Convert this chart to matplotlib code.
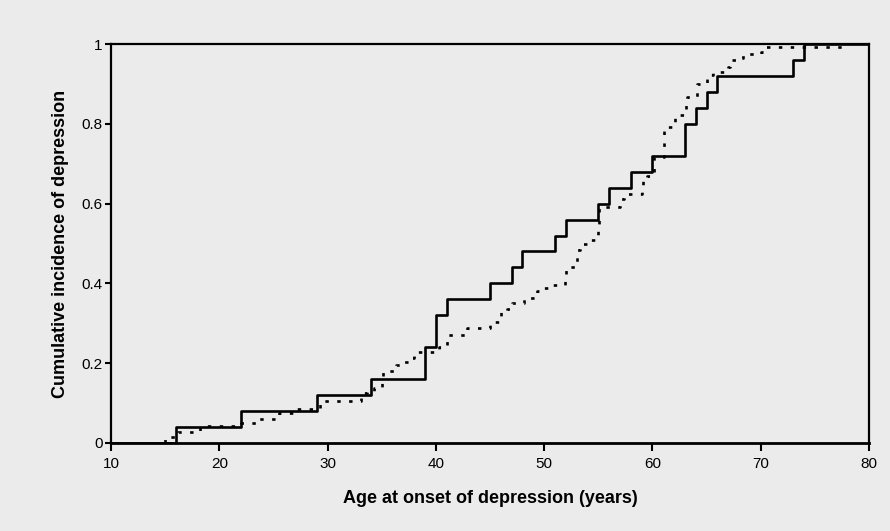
import numpy as np
import matplotlib
matplotlib.use("Agg")
import matplotlib.pyplot as plt

# solid curve: age at each event and cumulative incidence after it
solid_age = [16, 22, 29, 34, 39, 40, 41, 45, 47, 48, 51, 52, 55, 56, 58, 60,
             63, 64, 65, 66, 73, 74]
solid_cum = [0.04, 0.08, 0.12, 0.16, 0.24, 0.32, 0.36, 0.40, 0.44, 0.48, 0.52,
             0.56, 0.60, 0.64, 0.68, 0.72, 0.80, 0.84, 0.88, 0.92, 0.96, 1.0]
solid_end = 80

# dotted curve
dot_age = [15.0, 16.2, 18.2, 22.0, 23.4, 25.2, 25.5, 27.0, 29.3, 33.1, 33.6,
           34.3, 35.0, 35.1, 36.3, 37.0, 37.6, 38.0, 40.3, 41.0, 42.9, 45.0,
           46.0, 46.6, 47.0, 48.1, 49.3, 49.9, 50.5, 51.9, 52.0, 53.0, 53.3,
           54.0, 54.7, 55.0, 55.1, 57.0, 57.4, 59.0, 59.1, 59.5, 60.1, 61.1,
           62.1, 63.1, 63.2, 64.1, 65.0, 65.6, 67.0, 67.2, 68.0, 68.4, 70.0,
           70.5]
dot_cum = [0.014, 0.028, 0.042, 0.049, 0.060, 0.068, 0.076, 0.084, 0.105,
           0.125, 0.130, 0.138, 0.152, 0.181, 0.196, 0.204, 0.212, 0.227,
           0.241, 0.270, 0.288, 0.304, 0.330, 0.336, 0.350, 0.364, 0.380,
           0.388, 0.396, 0.408, 0.440, 0.484, 0.500, 0.510, 0.519, 0.535,
           0.592, 0.611, 0.623, 0.634, 0.660, 0.670, 0.718, 0.793, 0.822,
           0.850, 0.868, 0.899, 0.922, 0.929, 0.943, 0.960, 0.964, 0.975,
           0.981, 0.993]
dot_end = 78

x_ticks = [10, 20, 30, 40, 50, 60, 70, 80]
y_ticks = [0, 0.2, 0.4, 0.6, 0.8, 1]
y_labels = ["0", "0.2", "0.4", "0.6", "0.8", "1"]

bg = "#EBEBEB"
sans = ["Liberation Sans", "DejaVu Sans"]

fig = plt.figure(figsize=(8.9, 5.31), dpi=100, facecolor=bg)
ax = fig.add_axes([111 / 890, 1 - 443 / 531, 758 / 890, 399 / 531])
ax.set_facecolor(bg)

# step curves start at zero from the left edge
sx = [10] + solid_age + [solid_end]
sy = [0] + solid_cum + [solid_cum[-1]]
ax.step(sx, sy, where="post", color="black", lw=1.9, zorder=3)

dx = [dot_age[0]] + dot_age + [dot_end]
dy = [0] + dot_cum + [dot_cum[-1]]
ax.step(dx, dy, where="post", color="black", lw=1.9,
        linestyle=(0, (1.3, 3.2)), zorder=2)

ax.set_xlim(10, 80)
ax.set_ylim(0, 1)
ax.set_xticks(x_ticks)
ax.set_xticklabels([str(t) for t in x_ticks], family=sans, fontsize=11)
ax.set_yticks(y_ticks)
ax.set_yticklabels(y_labels, family=sans, fontsize=11)
ax.tick_params(axis="x", direction="out", length=6, width=1.5, pad=4)
ax.tick_params(axis="y", direction="out", length=4, width=1.5, pad=2)

for side in ["left", "bottom", "top", "right"]:
    ax.spines[side].set_color("black")
    ax.spines[side].set_linewidth(1.6)
ax.spines["bottom"].set_linewidth(2)

ax.set_xlabel("Age at onset of depression (years)", fontsize=13,
              fontweight="bold", family=sans, labelpad=14)
ax.set_ylabel("Cumulative incidence of depression", fontsize=13,
              fontweight="bold", family=sans, labelpad=9)

fig.savefig("out.png", dpi=100, facecolor=bg)
